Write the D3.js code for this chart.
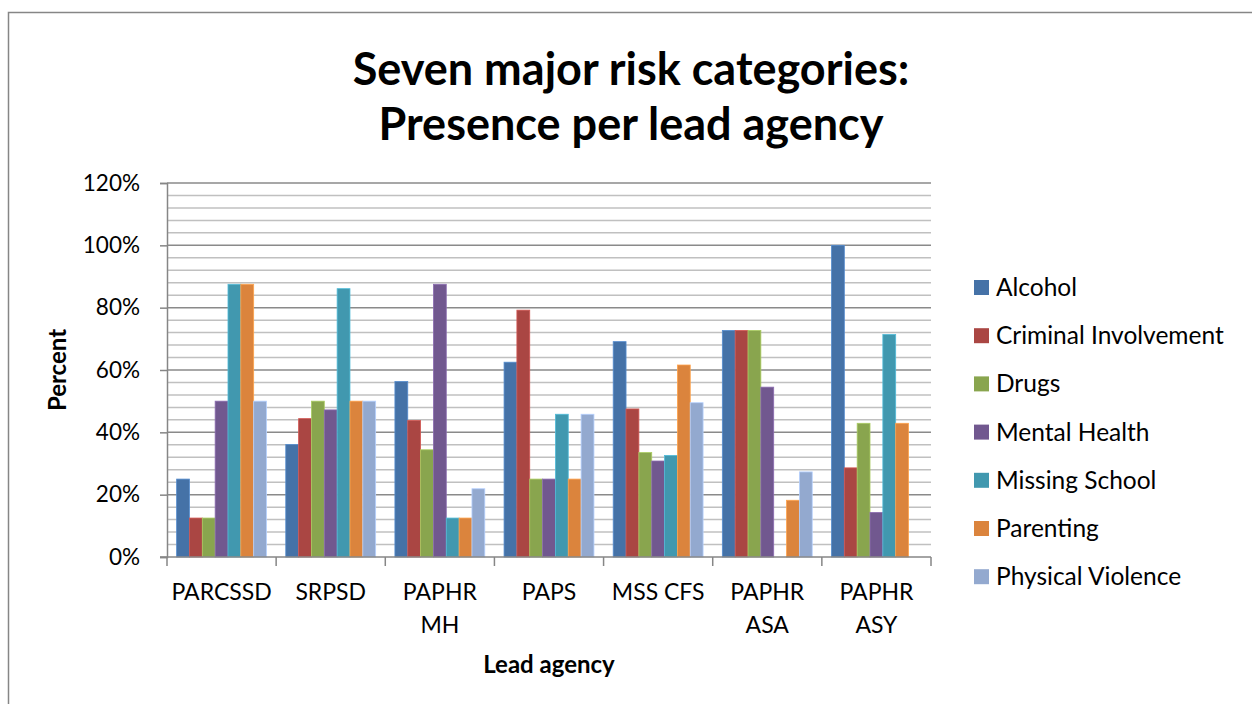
<!DOCTYPE html>
<html>
<head>
<meta charset="utf-8">
<script src="https://cdn.jsdelivr.net/npm/d3@7"></script>
<style>
  html, body { margin: 0; padding: 0; background: #fff; }
  svg { display: block; font-family: Lato, "Open Sans", sans-serif; }
</style>
</head>
<body>
<div id="chart"></div>
<script>
const agencies = [["PARCSSD"], ["SRPSD"], ["PAPHR", "MH"], ["PAPS"], ["MSS CFS"], ["PAPHR", "ASA"], ["PAPHR", "ASY"]];
const seriesNames = ["Alcohol", "Criminal Involvement", "Drugs", "Mental Health", "Missing School", "Parenting", "Physical Violence"];
const seriesColors = ["#4572A7", "#AA4643", "#89A54E", "#71588F", "#4198AF", "#DB843D", "#93A9CF"];

// percent per agency, one array per series
const alcohol   = [25.0, 36.1, 56.3, 62.5, 69.1, 72.7, 100.0];
const criminal  = [12.5, 44.4, 43.8, 79.2, 47.5, 72.7, 28.6];
const drugs     = [12.5, 50.0, 34.4, 25.0, 33.5, 72.7, 42.9];
const mental    = [50.0, 47.2, 87.5, 25.0, 30.8, 54.5, 14.3];
const missing   = [87.5, 86.1, 12.5, 45.8, 32.6, 0, 71.4];
const parenting = [87.5, 50.0, 12.5, 25.0, 61.6, 18.2, 42.9];
const violence  = [50.0, 50.0, 21.9, 45.8, 49.5, 27.3, 0];
const seriesValues = [alcohol, criminal, drugs, mental, missing, parenting, violence];

const yTicks = [0, 20, 40, 60, 80, 100, 120];

const width = 1252, height = 704;
const plot = { left: 167, right: 931, top: 183, bottom: 557 };

const svg = d3.select("#chart").append("svg")
    .attr("width", width)
    .attr("height", height);

// outer chart border
svg.append("rect")
    .attr("x", 8.5).attr("y", 12.5)
    .attr("width", width + 20).attr("height", height + 20)
    .attr("fill", "#fff")
    .attr("stroke", "#868686")
    .attr("stroke-width", 1.5);

const x0 = d3.scaleBand()
    .domain(d3.range(agencies.length))
    .range([plot.left, plot.right])
    .paddingInner(0).paddingOuter(0);

const x1 = d3.scaleBand()
    .domain(d3.range(seriesNames.length))
    .range([0, x0.bandwidth()])
    .paddingOuter(0.75).paddingInner(0);

const y = d3.scaleLinear()
    .domain([0, 120])
    .range([plot.bottom, plot.top]);

// minor gridlines every 4%
const g = svg.append("g");
g.selectAll("line.minor")
    .data(d3.range(0, 121, 4).filter(v => v % 20 !== 0))
    .enter().append("line")
    .attr("class", "minor")
    .attr("x1", plot.left).attr("x2", plot.right)
    .attr("y1", d => y(d)).attr("y2", d => y(d))
    .attr("stroke", "#c0c0c0")
    .attr("stroke-width", 1.5);

// major gridlines
g.selectAll("line.major")
    .data(yTicks.filter(v => v > 0))
    .enter().append("line")
    .attr("class", "major")
    .attr("x1", plot.left).attr("x2", plot.right)
    .attr("y1", d => y(d)).attr("y2", d => y(d))
    .attr("stroke", "#8a8a8a")
    .attr("stroke-width", 1.5);

// bars
const groups = svg.append("g").selectAll("g")
    .data(agencies)
    .enter().append("g")
    .attr("transform", (d, i) => `translate(${x0(i)},0)`);

groups.selectAll("rect")
    .data((d, i) => seriesValues.map((vals, s) => ({ s: s, v: vals[i] })))
    .enter().append("rect")
    .filter(d => d.v > 0)
    .attr("x", d => x1(d.s))
    .attr("y", d => y(d.v))
    .attr("width", x1.bandwidth())
    .attr("height", d => y(0) - y(d.v))
    .attr("fill", d => seriesColors[d.s])
    .attr("stroke", d => d3.color(seriesColors[d.s]).brighter(0.6))
    .attr("stroke-width", 0.8);

// y axis
const yAxis = svg.append("g")
    .attr("transform", `translate(${plot.left},0)`)
    .call(d3.axisLeft(y).tickValues(yTicks).tickFormat(d => d + "%").tickSize(7).tickPadding(20));
yAxis.select(".domain").attr("stroke", "#868686").attr("stroke-width", 1.5);
yAxis.selectAll(".tick line").attr("stroke", "#868686").attr("stroke-width", 1.5);
yAxis.selectAll(".tick text")
    .attr("font-size", 22.5).attr("fill", "#000")
    .attr("font-family", "Lato, sans-serif");

// x axis
const xAxis = svg.append("g")
    .attr("transform", `translate(0,${plot.bottom})`);
xAxis.append("line")
    .attr("x1", plot.left - 7).attr("x2", plot.right)
    .attr("stroke", "#868686").attr("stroke-width", 1.5);
xAxis.selectAll("line.tick")
    .data(d3.range(agencies.length + 1))
    .enter().append("line")
    .attr("class", "tick")
    .attr("x1", i => i < agencies.length ? x0(i) : plot.right)
    .attr("x2", i => i < agencies.length ? x0(i) : plot.right)
    .attr("y1", 0).attr("y2", 9)
    .attr("stroke", "#868686").attr("stroke-width", 1.5);

const xLabels = xAxis.selectAll("text")
    .data(agencies)
    .enter().append("text")
    .attr("x", (d, i) => x0(i) + x0.bandwidth() / 2)
    .attr("y", 43)
    .attr("text-anchor", "middle")
    .attr("font-size", 23);
xLabels.selectAll("tspan")
    .data(d => d)
    .enter().append("tspan")
    .attr("x", function() { return this.parentNode.getAttribute("x"); })
    .attr("dy", (d, i) => i === 0 ? 0 : 33)
    .text(d => d);

// titles
const title = svg.append("text")
    .attr("text-anchor", "middle")
    .attr("font-weight", "bold")
    .attr("font-size", 45);
title.append("tspan").attr("x", 631).attr("y", 85).text("Seven major risk categories:");
title.append("tspan").attr("x", 631).attr("y", 140).text("Presence per lead agency");

svg.append("text")
    .attr("x", (plot.left + plot.right) / 2)
    .attr("y", 673)
    .attr("text-anchor", "middle")
    .attr("font-weight", "bold")
    .attr("font-size", 24)
    .text("Lead agency");

svg.append("text")
    .attr("transform", `translate(66,${(plot.top + plot.bottom) / 2}) rotate(-90)`)
    .attr("text-anchor", "middle")
    .attr("font-weight", "bold")
    .attr("font-size", 24)
    .text("Percent");

// legend
const legend = svg.append("g")
    .attr("transform", "translate(974,288)");
const items = legend.selectAll("g")
    .data(seriesNames)
    .enter().append("g")
    .attr("transform", (d, i) => `translate(0,${i * 48.2})`);
items.append("rect")
    .attr("x", 0).attr("y", -8)
    .attr("width", 15).attr("height", 15)
    .attr("fill", (d, i) => seriesColors[i]);
items.append("text")
    .attr("x", 22).attr("y", 8)
    .attr("font-size", 24.5)
    .text(d => d);
</script>
</body>
</html>
